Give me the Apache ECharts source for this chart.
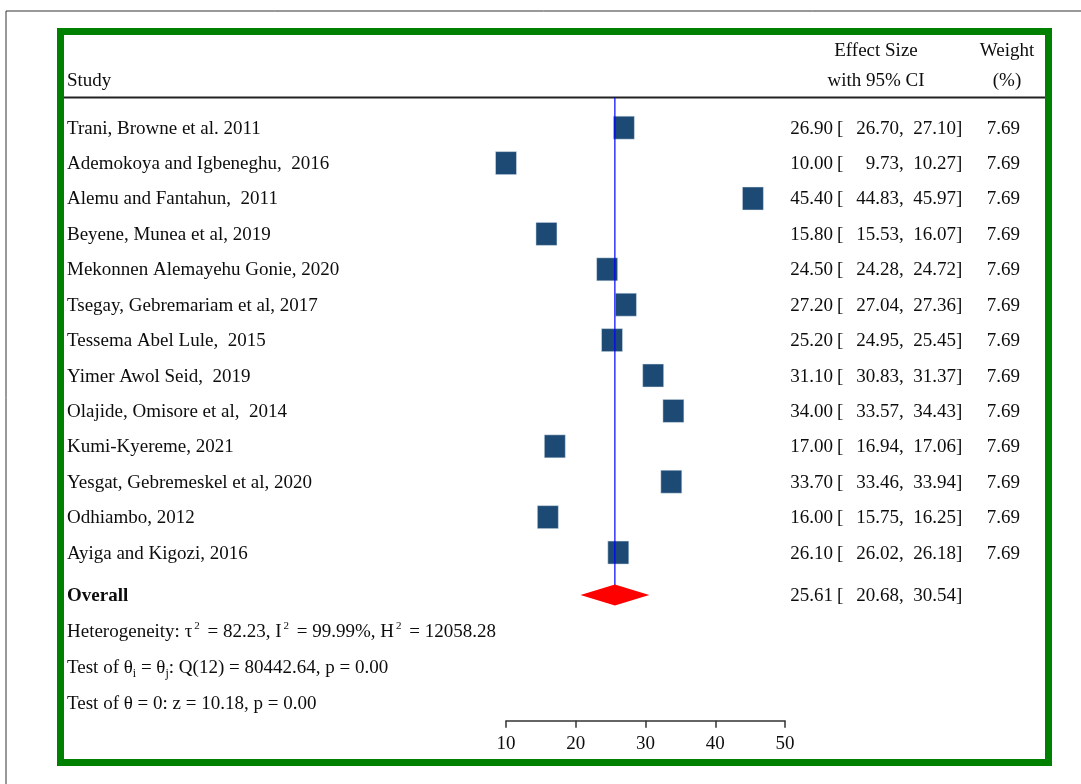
<!DOCTYPE html>
<html>
<head>
<meta charset="utf-8">
<script src="https://cdn.jsdelivr.net/npm/echarts@6/dist/echarts.min.js"></script>
<style>
  html, body { margin: 0; padding: 0; background: #fff; }
  #main { width: 1081px; height: 784px; }
</style>
</head>
<body>
<div id="main"></div>
<script>
// study data
const studies = [
  'Trani, Browne et al. 2011',
  'Ademokoya and Igbeneghu,  2016',
  'Alemu and Fantahun,  2011',
  'Beyene, Munea et al, 2019',
  'Mekonnen Alemayehu Gonie, 2020',
  'Tsegay, Gebremariam et al, 2017',
  'Tessema Abel Lule,  2015',
  'Yimer Awol Seid,  2019',
  'Olajide, Omisore et al,  2014',
  'Kumi-Kyereme, 2021',
  'Yesgat, Gebremeskel et al, 2020',
  'Odhiambo, 2012',
  'Ayiga and Kigozi, 2016'
];
const effect = [26.90, 10.00, 45.40, 15.80, 24.50, 27.20, 25.20, 31.10, 34.00, 17.00, 33.70, 16.00, 26.10];
const lower  = [26.70, 9.73, 44.83, 15.53, 24.28, 27.04, 24.95, 30.83, 33.57, 16.94, 33.46, 15.75, 26.02];
const upper  = [27.10, 10.27, 45.97, 16.07, 24.72, 27.36, 25.45, 31.37, 34.43, 17.06, 33.94, 16.25, 26.18];
const weights = [7.69, 7.69, 7.69, 7.69, 7.69, 7.69, 7.69, 7.69, 7.69, 7.69, 7.69, 7.69, 7.69];
const overall = [25.61, 20.68, 30.54]; // estimate, lower, upper
const xTicks = [10, 20, 30, 40, 50];
const notes = [
  'Heterogeneity: \u03c4{sup|2} = 82.23, I{sup|2} = 99.99%, H{sup|2} = 12058.28',
  'Test of \u03b8{sub|i} = \u03b8{sub|j}: Q(12) = 80442.64, p = 0.00',
  'Test of \u03b8 = 0: z = 10.18, p = 0.00'
];

const chart = echarts.init(document.getElementById('main'));

const FONT = '"Liberation Serif", "Times New Roman", serif';
const FS = 19;
const INK = '#0d0d0d';
const rowTop = -0.853, rowBottom = 16.75;   // y-axis extent in row units
const overallRow = 13.2;
const noteRows = [14.22, 15.22, 16.24];

function txt(x, y, text, align, extra) {
  return {
    type: 'text',
    style: Object.assign({
      text: text, x: x, y: y + 1,
      fontFamily: FONT, fontSize: FS, fill: INK,
      align: align || 'left', verticalAlign: 'middle'
    }, extra || {})
  };
}

function ciTexts(y, e, l, u) {
  return [
    txt(833, y, e.toFixed(2), 'right'),
    txt(837, y, '[', 'left'),
    txt(899, y, l.toFixed(2), 'right'),
    txt(899, y, ',', 'left'),
    txt(956, y, u.toFixed(2), 'right'),
    txt(956, y, ']', 'left')
  ];
}

function headText(x, y, text, align) {
  return { type: 'text', x: x, y: y,
    style: { text: text, font: FS + 'px ' + FONT, fill: INK, align: align, verticalAlign: 'middle' } };
}

const option = {
  animation: false,
  backgroundColor: '#fff',
  grid: { left: 506, right: 296, top: 97.5, bottom: 63.3 },
  xAxis: {
    type: 'value', position: 'bottom',
    min: xTicks[0], max: xTicks[xTicks.length - 1], interval: 10,
    axisLine: { onZero: false, lineStyle: { color: '#333', width: 1.5 } },
    axisTick: { show: true, length: 7, lineStyle: { color: '#333', width: 1.5 } },
    axisLabel: { color: INK, fontFamily: FONT, fontSize: FS, margin: 14 },
    splitLine: { show: false }
  },
  yAxis: { type: 'value', min: rowTop, max: rowBottom, inverse: true, show: false },
  graphic: [
    { type: 'line', shape: { x1: 6, y1: 11, x2: 1081, y2: 11 }, style: { stroke: '#333', lineWidth: 1 } },
    { type: 'line', shape: { x1: 6, y1: 11, x2: 6, y2: 784 }, style: { stroke: '#333', lineWidth: 1 } },
    { type: 'line', shape: { x1: 63, y1: 97.5, x2: 1046, y2: 97.5 }, style: { stroke: '#222', lineWidth: 2 } },
    headText(67, 81, 'Study', 'left'),
    headText(876, 51, 'Effect Size', 'center'),
    headText(876, 81, 'with 95% CI', 'center'),
    headText(1007, 51, 'Weight', 'center'),
    headText(1007, 81, '(%)', 'center'),
    { type: 'rect', z: 100, shape: { x: 60.5, y: 31.5, width: 988, height: 731 },
      style: { fill: 'none', stroke: '#008000', lineWidth: 7 } }
  ],
  series: [
    {
      // study squares
      type: 'scatter', z: 2,
      symbol: 'rect', symbolSize: [21, 23],
      itemStyle: { color: '#1c4a74', opacity: 1, borderColor: '#dfe6ee', borderWidth: 0.5 },
      data: effect.map((v, i) => [v, i])
    },
    {
      // overall effect line
      type: 'line', z: 3, symbol: 'none',
      lineStyle: { color: '#0000ff', width: 1.2 },
      data: [[overall[0], rowTop], [overall[0], overallRow]]
    },
    {
      // overall diamond
      type: 'custom', z: 4, clip: false,
      data: [[overall[1], overall[0], overall[2], overallRow]],
      renderItem: function (params, api) {
        const l = api.coord([api.value(0), api.value(3)]);
        const m = api.coord([api.value(1), api.value(3)]);
        const r = api.coord([api.value(2), api.value(3)]);
        const h = 10.5;
        return {
          type: 'polygon',
          shape: { points: [[l[0], l[1]], [m[0], m[1] - h], [r[0], r[1]], [m[0], m[1] + h]] },
          style: { fill: '#ff0000' }
        };
      }
    },
    {
      // study rows text
      type: 'custom', z: 5, clip: false, silent: true,
      data: effect.map((v, i) => [v, i]),
      renderItem: function (params, api) {
        const i = params.dataIndex;
        const y = api.coord([api.value(0), api.value(1)])[1];
        return {
          type: 'group',
          children: [txt(67, y, studies[i], 'left')]
            .concat(ciTexts(y, effect[i], lower[i], upper[i]))
            .concat([txt(1020, y, weights[i].toFixed(2), 'right')])
        };
      }
    },
    {
      // overall row + notes
      type: 'custom', z: 5, clip: false, silent: true,
      data: [[overall[0], overallRow]],
      renderItem: function (params, api) {
        const y = api.coord([api.value(0), api.value(1)])[1];
        const kids = [txt(67, y, 'Overall', 'left', { fontWeight: 'bold' })]
          .concat(ciTexts(y, overall[0], overall[1], overall[2]));
        notes.forEach(function (n, k) {
          const yy = api.coord([api.value(0), noteRows[k]])[1];
          kids.push(txt(67, yy, n, 'left', {
            lineHeight: 24,
            rich: {
              sup: { fontFamily: FONT, fontSize: 11, fill: INK, verticalAlign: 'top', lineHeight: 10, padding: [0, 3, 0, 2] },
              sub: { fontFamily: FONT, fontSize: 12, fill: INK, verticalAlign: 'bottom', lineHeight: 12 }
            }
          }));
        });
        return { type: 'group', children: kids };
      }
    }
  ]
};

chart.setOption(option);
</script>
</body>
</html>
